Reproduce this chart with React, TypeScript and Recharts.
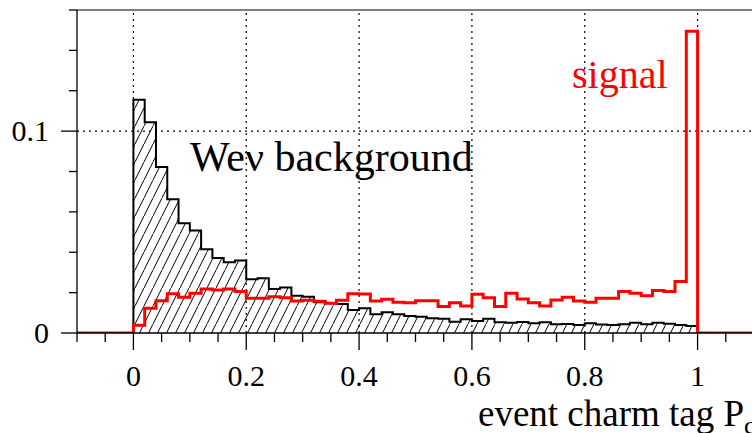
import React from 'react';
import { ComposedChart, Area, Line, XAxis, YAxis, ReferenceLine } from 'recharts';

// histogram binning (50 bins over 0..1)
const BIN_START = 0;
const BIN_WIDTH = 0.02;
const X_RANGE = [-0.1, 1.1];
const Y_RANGE = [0, 0.16];

// W e nu background, per bin
const BACKGROUND = [
  0.1156, 0.1044, 0.0822, 0.0663, 0.0544, 0.0508, 0.0415, 0.0371, 0.0351, 0.0359,
  0.0266, 0.0271, 0.0218, 0.0225, 0.0184, 0.018, 0.0152, 0.0147, 0.0144, 0.0114,
  0.0123, 0.0093, 0.0103, 0.0093, 0.0084, 0.0081, 0.0073, 0.007, 0.0056, 0.0068,
  0.006, 0.007, 0.0053, 0.0051, 0.0054, 0.0048, 0.0053, 0.0043, 0.0045, 0.004,
  0.0048, 0.0042, 0.004, 0.0043, 0.0051, 0.0043, 0.0051, 0.0046, 0.004, 0.0035,
];

// signal, per bin
const SIGNAL = [
  0.0038, 0.0123, 0.016, 0.0194, 0.0177, 0.0197, 0.0218, 0.0213, 0.0218, 0.0205,
  0.0172, 0.0172, 0.0179, 0.0175, 0.0159, 0.0162, 0.0157, 0.0147, 0.0162, 0.0194,
  0.0193, 0.0159, 0.0167, 0.0152, 0.015, 0.016, 0.016, 0.0131, 0.015, 0.0134,
  0.0192, 0.0175, 0.0131, 0.0197, 0.0169, 0.015, 0.0134, 0.0164, 0.0177, 0.0159,
  0.0152, 0.0172, 0.0172, 0.0205, 0.0197, 0.0184, 0.021, 0.0205, 0.0255, 0.1495,
];

const X_TICKS = [
  -0.1, -0.05, 0, 0.05, 0.1, 0.15, 0.2, 0.25, 0.3, 0.35, 0.4, 0.45, 0.5, 0.55,
  0.6, 0.65, 0.7, 0.75, 0.8, 0.85, 0.9, 0.95, 1, 1.05, 1.1,
];
const X_MAJOR = [0, 0.2, 0.4, 0.6, 0.8, 1];
const Y_TICKS = [0, 0.02, 0.04, 0.06, 0.08, 0.1, 0.12, 0.14, 0.16];
const Y_MAJOR = [0, 0.1];
const X_GRID = [0, 0.2, 0.4, 0.6, 0.8, 1];
const Y_GRID = [0.1];

const FONT = '"Liberation Serif", "Times New Roman", serif';

const rows: { x: number; bg: number | null; sig: number }[] = [
  { x: X_RANGE[0], bg: null, sig: 0 },
  { x: BIN_START, bg: 0, sig: 0 },
];
BACKGROUND.forEach((b, i) => {
  rows.push({ x: BIN_START + i * BIN_WIDTH, bg: b, sig: SIGNAL[i] });
});
const binEnd = BIN_START + BACKGROUND.length * BIN_WIDTH;
rows.push({ x: binEnd, bg: 0, sig: 0 }, { x: X_RANGE[1], bg: null, sig: 0 });

const isIn = (list: number[], v: number) => list.some((m) => Math.abs(m - v) < 1e-9);

const XTick = (props: any) => {
  const { x, y, payload } = props;
  const major = isIn(X_MAJOR, payload.value);
  return (
    <g>
      <line x1={x} x2={x} y1={y} y2={y + (major ? 17 : 9)} stroke="#000" strokeWidth={1.3} />
      {major && (
        <text x={x} y={y + 53} textAnchor="middle" fontFamily={FONT} fontSize={30} fill="#000">
          {String(payload.value)}
        </text>
      )}
    </g>
  );
};

const YTick = (props: any) => {
  const { x, y, payload } = props;
  const major = isIn(Y_MAJOR, payload.value);
  return (
    <g>
      <line x1={x - (major ? 16 : 8)} x2={x} y1={y} y2={y} stroke="#000" strokeWidth={1.3} />
      {major && (
        <text x={x - 28} y={y + 10} textAnchor="end" fontFamily={FONT} fontSize={30} fill="#000">
          {String(payload.value)}
        </text>
      )}
    </g>
  );
};

export default function App() {
  return (
    <div style={{ position: 'fixed', left: 0, top: 0, width: 752, height: 433, overflow: 'hidden', background: '#fff' }}>
      <ComposedChart width={760} height={433} data={rows} margin={{ top: 10, right: 6, bottom: 0, left: 0 }}>
        <defs>
          <pattern id="hatch" patternUnits="userSpaceOnUse" width={9} height={18}>
            <path d="M-1,20 L10,-2" stroke="#000" strokeWidth={1} />
          </pattern>
        </defs>
        <XAxis
          dataKey="x"
          type="number"
          domain={X_RANGE}
          ticks={X_TICKS}
          tick={<XTick />}
          tickLine={false}
          tickSize={0}
          tickMargin={0}
          height={100}
          axisLine={{ stroke: '#000', strokeWidth: 1.3 }}
          allowDataOverflow
          interval={0}
        />
        <YAxis
          type="number"
          domain={Y_RANGE}
          ticks={Y_TICKS}
          tick={<YTick />}
          tickLine={false}
          tickSize={0}
          tickMargin={0}
          width={77}
          axisLine={{ stroke: '#000', strokeWidth: 1.3 }}
          allowDataOverflow
          interval={0}
        />
        {X_GRID.map((g) => (
          <ReferenceLine key={'gx' + g} x={g} stroke="#000" strokeWidth={1.2} strokeDasharray="2 4" />
        ))}
        {Y_GRID.map((g) => (
          <ReferenceLine key={'gy' + g} y={g} stroke="#000" strokeWidth={1.2} strokeDasharray="2 4" />
        ))}
        <ReferenceLine y={Y_RANGE[1]} stroke="#555" strokeWidth={1.5} />
        <Area
          dataKey="bg"
          type="stepAfter"
          stroke="#000"
          strokeWidth={2}
          fill="url(#hatch)"
          fillOpacity={1}
          isAnimationActive={false}
          dot={false}
          activeDot={false}
        />
        <Line
          dataKey="sig"
          type="stepAfter"
          stroke="#ff0000"
          strokeWidth={3}
          dot={false}
          activeDot={false}
          isAnimationActive={false}
        />
      </ComposedChart>
      <svg width={752} height={433} style={{ position: 'absolute', left: 0, top: 0, pointerEvents: 'none' }}>
        <text x={190} y={171} fontFamily={FONT} fontSize={42} fill="#000">Weν background</text>
        <text x={572} y={88} fontFamily={FONT} fontSize={40} fill="#ff0000">signal</text>
        <text x={478} y={426} fontFamily={FONT} fontSize={37} fill="#000">
          event charm tag P
          <tspan fontSize={26} dy={8}>c</tspan>
        </text>
      </svg>
    </div>
  );
}
